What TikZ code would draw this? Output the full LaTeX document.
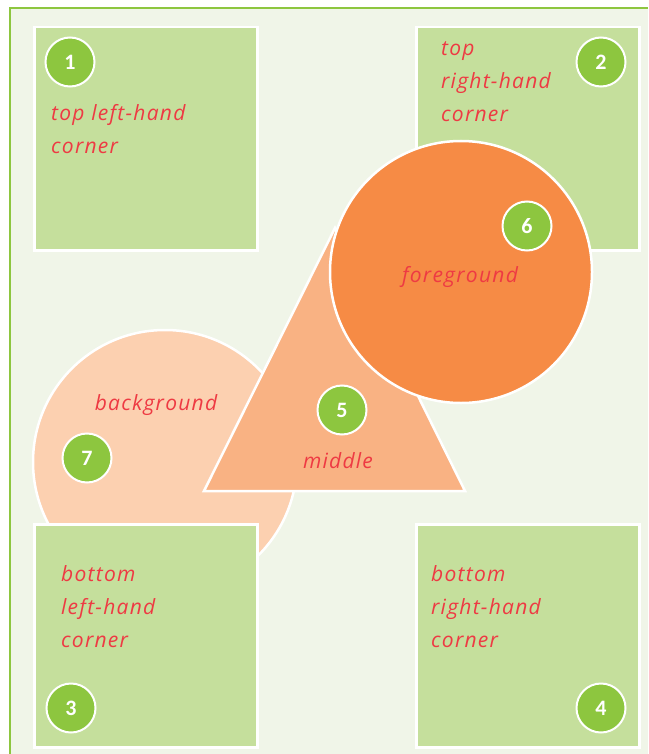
\documentclass[tikz,border=0pt]{standalone}
\usepackage{fontspec}
\newfontfamily\handfont{Open Sans}[LetterSpace=6]
\newfontfamily\numfont{Carlito}
\definecolor{pagebg}{HTML}{F0F5E8}
\definecolor{frameline}{HTML}{8DC63F}
\definecolor{boxfill}{HTML}{C5DF9C}
\definecolor{badge}{HTML}{8DC63F}
\definecolor{fgorange}{HTML}{F68B45}
\definecolor{midorange}{HTML}{F9B283}
\definecolor{bgorange}{HTML}{FCD0B0}
\definecolor{labelred}{HTML}{EE3A43}
\tikzset{
  cornerbox/.style={draw=white, line width=2.5pt, fill=boxfill},
  shapeline/.style={draw=white, line width=2.5pt},
  numbadge/.style={circle, fill=badge, draw=white, line width=2pt, minimum size=49pt, inner sep=0pt,
    text=white, font=\numfont\bfseries\fontsize{22}{22}\selectfont},
  lbl/.style={text=labelred, font=\handfont\itshape\fontsize{21}{33}\selectfont, align=left, inner sep=0pt},
}
\begin{document}
\begin{tikzpicture}[x=1pt,y=-1pt]
\useasboundingbox (0,0) rectangle (648,754);
% page background and frame
\fill[pagebg] (10,8) rectangle (648,754);
\draw[frameline, line width=1.2pt] (10,754) -- (10,8) -- (648,8);
% background circle
\fill[bgorange, shapeline] (165,462) circle (132);
% corner boxes
\node[cornerbox, minimum width=223pt, minimum height=223pt, anchor=north west] (b1) at (33,26) {};
\node[cornerbox, minimum width=223pt, minimum height=223pt, anchor=north west] (b2) at (415,26) {};
\node[cornerbox, minimum width=223pt, minimum height=223pt, anchor=north west] (b3) at (33,523) {};
\node[cornerbox, minimum width=223pt, minimum height=223pt, anchor=north west] (b4) at (415,523) {};
% triangle
\fill[midorange, shapeline, line join=miter] (204,491) -- (335,228) -- (465,491) -- cycle;
% foreground circle
\fill[fgorange, shapeline] (461,272) circle (131);
% labels
\node[lbl, anchor=west] (t1) at (51,129) {top left-hand\\corner};
\node[lbl, anchor=west] (t2) at (441,82) {top\\right-hand\\corner};
\node[lbl, anchor=west] (t3) at (61,607) {bottom\\left-hand\\corner};
\node[lbl, anchor=west] (t4) at (431,607) {bottom\\right-hand\\corner};
\node[lbl] (t5) at (338,461) {middle};
\node[lbl] (t6) at (460,277) {foreground};
\node[lbl] (t7) at (156,405) {background};
% number badges
\node[numbadge] (n1) at (70,62) {1};
\node[numbadge] (n2) at (601,62) {2};
\node[numbadge] (n3) at (71,708) {3};
\node[numbadge] (n4) at (601,708) {4};
\node[numbadge] (n5) at (342,410) {5};
\node[numbadge] (n6) at (527,226) {6};
\node[numbadge] (n7) at (87,458) {7};
\end{tikzpicture}
\end{document}
